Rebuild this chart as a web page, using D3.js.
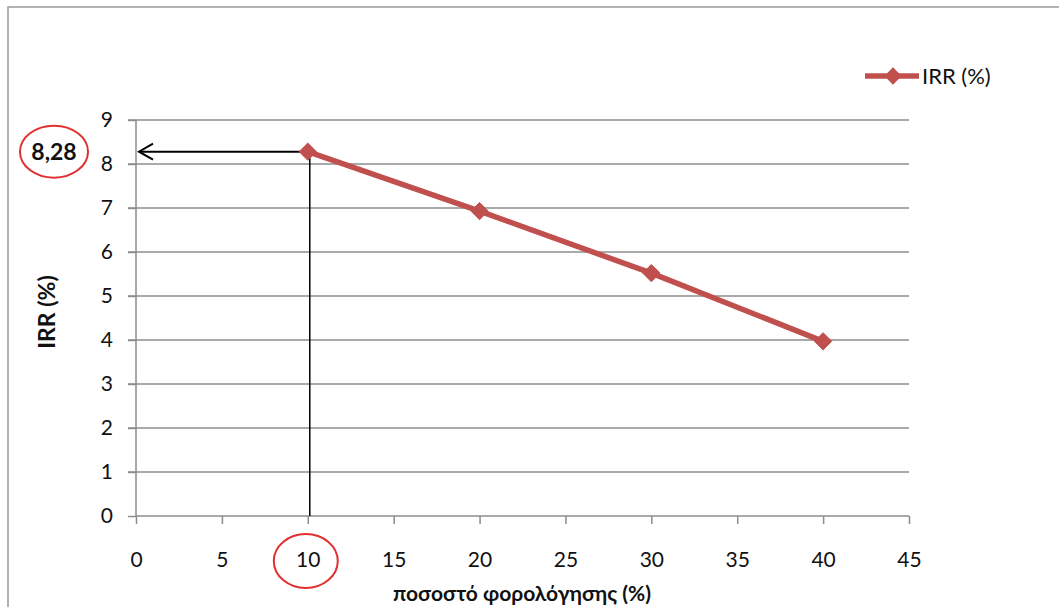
<!DOCTYPE html>
<html><head><meta charset="utf-8">
<script src="https://cdn.jsdelivr.net/npm/d3@7"></script>
<style>body{margin:0;background:#fff}svg{display:block;font-family:Lato,"Open Sans",sans-serif}</style>
</head><body><svg id="c" width="1059" height="607"></svg>
<script>
const taxRates = [10, 20, 30, 40];
const irrValues = [8.28, 6.93, 5.52, 3.97];
const xTicks = [0,5,10,15,20,25,30,35,40,45];
const yTicks = [0,1,2,3,4,5,6,7,8,9];
const seriesName = "IRR (%)";
const xTitle = "ποσοστό φορολόγησης (%)";
const yTitle = "IRR (%)";
const annotValue = "8,28";
const highlightX = 10;
const highlightY = 8.28;

const svg = d3.select("#c");
const red = "#c0504d";
svg.append("rect").attr("x",8).attr("y",7).attr("width",1070).attr("height",620)
  .attr("fill","#fff").attr("stroke","#999").attr("stroke-width",1.5);

const x = d3.scaleLinear().domain([0,45]).range([136,909]);
const y = d3.scaleLinear().domain([0,9]).range([516,120]);

// gridlines
svg.append("g").selectAll("line").data(yTicks.filter(d=>d>0)).join("line")
  .attr("x1",128).attr("x2",909).attr("y1",d=>y(d)).attr("y2",d=>y(d))
  .attr("stroke","#8c8c8c").attr("stroke-width",1.5);

// y axis
const ya = svg.append("g").attr("transform","translate(136,0)")
  .call(d3.axisLeft(y).tickValues(yTicks).tickSize(8).tickPadding(15).tickFormat(d3.format("d")));
ya.select(".domain").attr("stroke","#8c8c8c").attr("stroke-width",1.5).attr("d","M0,"+y(9)+"V"+y(0));
ya.selectAll(".tick line").attr("stroke","#8c8c8c").attr("stroke-width",1.5);
ya.selectAll("text").attr("font-size",21).attr("fill","#111").attr("font-family","Lato,sans-serif");

// x axis
const xa = svg.append("g").attr("transform","translate(0,516)")
  .call(d3.axisBottom(x).tickValues(xTicks).tickSize(8).tickPadding(28).tickFormat(d3.format("d")));
xa.select(".domain").attr("stroke","#8c8c8c").attr("stroke-width",1.5).attr("d","M"+x(0)+",0H"+x(45));
xa.selectAll(".tick line").attr("stroke","#8c8c8c").attr("stroke-width",1.5);
xa.selectAll("text").attr("font-size",21).attr("fill","#111").attr("font-family","Lato,sans-serif");

// titles
svg.append("text").attr("x",522).attr("y",601).attr("text-anchor","middle")
  .attr("font-size",21).attr("font-weight","bold").attr("fill","#111").text(xTitle);
svg.append("text").attr("transform","translate(55,312) rotate(-90)").attr("text-anchor","middle")
  .attr("font-size",23).attr("font-weight","bold").attr("fill","#111").text(yTitle);

// annotation lines
svg.append("line").attr("x1",x(highlightX)+2).attr("x2",x(highlightX)+2)
  .attr("y1",y(highlightY)).attr("y2",y(0)).attr("stroke","#000").attr("stroke-width",1.5);
svg.append("line").attr("x1",x(0)+3).attr("x2",x(highlightX)).attr("y1",y(highlightY)).attr("y2",y(highlightY))
  .attr("stroke","#000").attr("stroke-width",2);
svg.append("path").attr("d",`M${x(0)+17},${y(highlightY)-8}L${x(0)+3},${y(highlightY)}L${x(0)+17},${y(highlightY)+8}`)
  .attr("fill","none").attr("stroke","#000").attr("stroke-width",2);

// series
const pts = taxRates.map((t,i)=>[t,irrValues[i]]);
svg.append("path").datum(pts).attr("d",d3.line().x(d=>x(d[0])).y(d=>y(d[1])))
  .attr("fill","none").attr("stroke",red).attr("stroke-width",5.5).attr("stroke-linejoin","round");
const dia = d3.symbol().type(d3.symbolDiamond2).size(190);
svg.append("g").selectAll("path").data(pts).join("path")
  .attr("transform",d=>`translate(${x(d[0])},${y(d[1])})`)
  .attr("d",dia).attr("fill",red).attr("stroke",red).attr("stroke-width",1);

// annotation text and circles
svg.append("text").attr("x",54).attr("y",y(highlightY)+8).attr("text-anchor","middle")
  .attr("font-size",23).attr("font-weight","bold").attr("fill","#111").text(annotValue);
svg.append("ellipse").attr("cx",54).attr("cy",y(highlightY)).attr("rx",34).attr("ry",26)
  .attr("fill","none").attr("stroke","#e03030").attr("stroke-width",2);
svg.append("ellipse").attr("cx",x(highlightX)-2).attr("cy",561).attr("rx",32).attr("ry",27)
  .attr("fill","none").attr("stroke","#e03030").attr("stroke-width",2);

// legend
const lg = svg.append("g").attr("transform","translate(865,76)");
lg.append("line").attr("x1",0).attr("x2",54).attr("stroke",red).attr("stroke-width",5.5);
lg.append("path").attr("transform","translate(28,0)").attr("d",dia).attr("fill",red);
lg.append("text").attr("x",57).attr("y",8).attr("font-size",22).attr("fill","#111").text(seriesName);
</script></body></html>
